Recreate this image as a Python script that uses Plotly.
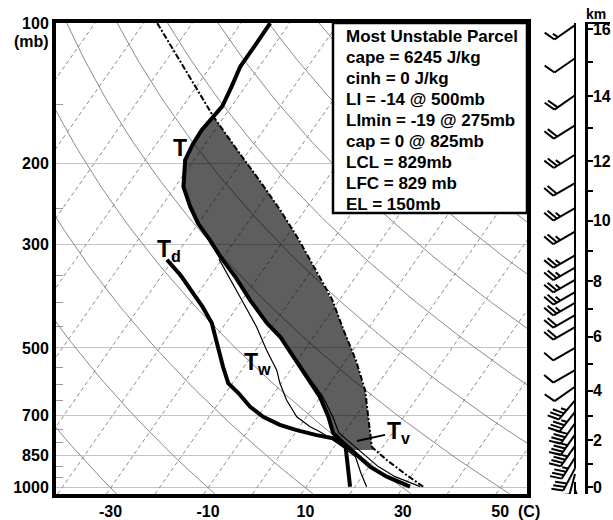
import numpy as np
import plotly.graph_objects as go

# ---------------- data ----------------
# environmental temperature (C) vs pressure (mb)
t_p = [994, 946, 900, 817, 800, 762, 703, 637, 577, 522, 473, 442, 394, 351, 318,
       293, 270, 248, 225, 197, 182, 170, 159, 151, 137, 124, 111, 100]
t_c = [31.3, 25.1, 20.2, 12.7, 11.3, 7.8, 4.5, -0.1, -5.7, -11.4, -16.9, -21.6, -28.4,
       -34.8, -40.7, -45.2, -50.0, -54.1, -58.3, -61.8, -62.5, -62.7, -62.2, -61.9,
       -62.8, -63.9, -63.9, -64.0]
# dew point
td_p = [994, 930, 857, 817, 782, 770, 751, 732, 703, 669, 625, 595, 549, 488, 442,
        408, 375, 348, 323]
td_c = [19.0, 16.7, 14.0, 12.4, 8.5, 4.7, -0.1, -4.3, -8.9, -13.0, -17.4, -20.9,
        -24.3, -29.0, -32.9, -37.1, -42.1, -46.3, -51.2]
# wet-bulb temperature
tw_p = [994, 930, 857, 800, 757, 739, 703, 647, 595, 558, 505, 450, 400, 357, 322]
tw_c = [22.4, 19.3, 15.8, 10.2, 4.9, 2.2, -2.0, -6.5, -10.3, -12.8, -17.8, -23.2,
        -29.3, -35.3, -40.6]
# virtual temperature
tv_p = [994, 946, 900, 817, 762, 703, 637, 577, 522, 473, 442, 394]
tv_c = [33.4, 26.8, 21.9, 14.3, 9.0, 5.4, 0.5, -5.3, -11.1, -16.7, -21.5, -28.3]
# most unstable parcel (virtual) temperature
pc_p = [994, 938, 871, 817, 714, 616, 531, 458, 394, 340, 293, 252, 218, 188, 159, 100]
pc_c = [34.0, 28.9, 22.7, 17.8, 13.2, 8.2, 2.0, -4.8, -11.5, -19.2, -26.9, -35.2,
        -43.6, -52.4, -62.2, -87.2]
lfc_p = 829

# wind profile
wind_p = [101, 119, 143, 166, 192, 221, 250, 281, 316, 336, 357, 379, 400, 425, 451,
          500, 558, 606, 648, 686, 726, 768, 812, 860, 908, 934, 971, 1008]
wind_dir = [235, 235, 235, 238, 238, 240, 240, 240, 240, 240, 240, 240, 240, 240, 240,
            240, 240, 235, 220, 218, 215, 215, 215, 212, 208, 195, 180, 160]
wind_kt = [15, 10, 20, 20, 25, 20, 25, 25, 25, 25, 25, 25, 25, 20, 20,
           10, 10, 10, 35, 35, 40, 40, 40, 35, 30, 20, 15, 15]

# height scale (km)
km_text = ["16", "14", "12", "10", "8", "6", "4", "2", "0"]
km_p = [103, 143.6, 198, 266, 359, 473, 618, 790, 996]
km_minor_p = [121, 168, 230, 309, 412, 541, 699, 888]

# axes text
x_tick_vals = [-30, -10, 10, 30, 50]
x_tick_text = ["-30", "-10", "10", "30", "50"]
p_tick_vals = [100, 200, 300, 500, 700, 850, 1000]
p_tick_text = ["100", "200", "300", "500", "700", "850", "1000"]
p_minor_vals = [150, 250, 350, 400, 450, 550, 600, 650, 750, 800, 900, 950]
info_lines = ["Most Unstable Parcel", "cape = 6245 J/kg", "cinh = 0 J/kg",
              "LI = -14 @ 500mb", "LImin = -19 @ 275mb", "cap = 0 @ 825mb",
              "LCL = 829mb", "LFC = 829 mb", "EL = 150mb"]
isotherm_c = list(range(-140, 60, 10))
adiabat_c = list(range(-30, 250, 20))

# ---------------- layout constants ----------------
W, H = 613, 520
ML, MR, MT, MB = 56, 13, 23, 26
PW, PH = W - ML - MR, H - MT - MB
MAIN_RIGHT = 527
KM_X = 585
SKEW = 29.0
P_TOP, P_BOT = 99.95, 1030.8
X_LEFT, X_RIGHT = -41.21, 55.50
FONT = "Liberation Sans, Arial, sans-serif"
PX_PER_LN = PH / np.log(P_BOT / P_TOP)
YR = [np.log10(P_BOT), np.log10(P_TOP)]


def px(x):
    return (x - ML) / PW


def py(y):
    return (H - MB - y) / PH


def skew(t, p):
    return np.asarray(t, float) + SKEW * np.log(1000.0 / np.asarray(p, float))


fig = go.Figure()

# isotherms
ix, iy = [], []
for t in isotherm_c:
    ix += list(skew([t, t], [P_BOT, P_TOP])) + [None]
    iy += [P_BOT, P_TOP, None]
fig.add_trace(go.Scatter(x=ix, y=iy, mode="lines", hoverinfo="skip",
                         line=dict(color="#8c8c8c", width=1, dash="4px,3px")))

# dry adiabats
pg = np.geomspace(P_TOP, P_BOT, 60)
ax_, ay_ = [], []
for th in adiabat_c:
    tt = (th + 273.15) * (pg / 1000.0) ** 0.2857 - 273.15
    ax_ += list(skew(tt, pg)) + [None]
    ay_ += list(pg) + [None]
fig.add_trace(go.Scatter(x=ax_, y=ay_, mode="lines", hoverinfo="skip",
                         line=dict(color="#8a8a8a", width=1)))

# CAPE area between environment and parcel
pp = np.geomspace(lfc_p, 100, 300)
env = np.interp(-np.log(pp), -np.log(t_p), t_c)
par = np.interp(-np.log(pp), -np.log(pc_p), pc_c)
diff = par - env
k = int(np.argmax(diff < 0)) if np.any(diff < 0) else len(pp)
fp = list(pp[:k])
fe = list(env[:k])
fpar = list(par[:k])
if k < len(pp):
    f = diff[k - 1] / (diff[k - 1] - diff[k])
    lp_el = np.log(pp[k - 1]) + f * (np.log(pp[k]) - np.log(pp[k - 1]))
    p_el = float(np.exp(lp_el))
    t_el = env[k - 1] + f * (env[k] - env[k - 1])
    fp.append(p_el); fe.append(t_el); fpar.append(t_el)
poly_x = list(skew(fe, fp)) + list(skew(fpar, fp))[::-1]
poly_y = fp + fp[::-1]
fig.add_trace(go.Scatter(x=poly_x, y=poly_y, mode="lines", fill="toself",
                         fillcolor="rgba(0,0,0,0.63)", line=dict(width=0),
                         hoverinfo="skip"))

# sounding lines
fig.add_trace(go.Scatter(x=skew(tv_c, tv_p), y=tv_p, mode="lines",
                         line=dict(color="black", width=1.2), hoverinfo="skip"))
fig.add_trace(go.Scatter(x=skew(tw_c, tw_p), y=tw_p, mode="lines",
                         line=dict(color="black", width=1.2), hoverinfo="skip"))
fig.add_trace(go.Scatter(x=skew(pc_c, pc_p), y=pc_p, mode="lines",
                         line=dict(color="black", width=2, dash="6px,2px,2px,2px"),
                         hoverinfo="skip"))
fig.add_trace(go.Scatter(x=skew(td_c, td_p), y=td_p, mode="lines",
                         line=dict(color="black", width=4), hoverinfo="skip"))
fig.add_trace(go.Scatter(x=skew(t_c, t_p), y=t_p, mode="lines",
                         line=dict(color="black", width=4), hoverinfo="skip"))

# wind barbs (pixel geometry on a side axis whose x units are pixels)
POLE_X = 575
STAFF, FULL, HALF, GAP = 25, 12, 6, 4
ROT = np.radians(70)
bx, by = [], []


def seg(p0, x1, y1, x2, y2):
    bx.extend([POLE_X + x1, POLE_X + x2, None])
    by.extend([p0 * np.exp(y1 / PX_PER_LN), p0 * np.exp(y2 / PX_PER_LN), None])


for p0, d, s in zip(wind_p, wind_dir, wind_kt):
    r = np.radians(d)
    ux, uy = np.sin(r), -np.cos(r)
    seg(p0, 0, 0, STAFF * ux, STAFF * uy)
    fx = ux * np.cos(ROT) - uy * np.sin(ROT)
    fy = ux * np.sin(ROT) + uy * np.cos(ROT)
    n10 = int(s // 10)
    n5 = int(round((s - 10 * n10) / 5))
    pos = STAFF
    for i in range(n10):
        sx, sy = pos * ux, pos * uy
        seg(p0, sx, sy, sx + FULL * fx, sy + FULL * fy)
        pos -= GAP
    if n5:
        if n10 == 0:
            pos -= GAP
        sx, sy = pos * ux, pos * uy
        seg(p0, sx, sy, sx + HALF * fx, sy + HALF * fy)

fig.add_trace(go.Scatter(x=[POLE_X, POLE_X], y=[P_TOP, wind_p[-4]], mode="lines",
                         line=dict(color="black", width=2), xaxis="x3", yaxis="y3",
                         hoverinfo="skip", cliponaxis=False))
fig.add_trace(go.Scatter(x=bx, y=by, mode="lines", line=dict(color="black", width=2),
                         xaxis="x3", yaxis="y3", hoverinfo="skip", cliponaxis=False))

bold16 = dict(family=FONT, size=16, color="black", weight="bold")
bold17 = dict(family=FONT, size=17, color="black", weight="bold")

fig.update_layout(
    width=W, height=H, margin=dict(l=ML, r=MR, t=MT, b=MB, autoexpand=False),
    paper_bgcolor="white", plot_bgcolor="white", showlegend=False,
    xaxis=dict(domain=[0, px(MAIN_RIGHT)], range=[X_LEFT, X_RIGHT], showgrid=False,
               zeroline=False, showline=True, linewidth=4, linecolor="black",
               mirror=True, ticks="", tickvals=x_tick_vals, ticktext=x_tick_text,
               tickfont=bold16, automargin=False, anchor="y"),
    yaxis=dict(type="log", range=YR, domain=[0, 1], anchor="x",
               tickvals=p_tick_vals, ticktext=p_tick_text, tickfont=bold16,
               showgrid=True, gridcolor="#c4c4c4", gridwidth=1.2, zeroline=False,
               showline=True, linewidth=4, linecolor="black", mirror=True, ticks="",
               automargin=False,
               minor=dict(tickvals=p_minor_vals, ticks="inside", ticklen=7,
                          tickcolor="#9a9a9a", tickwidth=1, showgrid=False)),
    xaxis3=dict(domain=[px(530), px(KM_X)], range=[530, KM_X], visible=False,
                anchor="y3", fixedrange=True, automargin=False),
    yaxis3=dict(type="log", range=YR, domain=[0, 1], anchor="x3", side="right",
                tickvals=km_p, ticktext=km_text, tickfont=bold16, showgrid=False,
                zeroline=False, showline=True, linewidth=2.5, linecolor="black",
                ticks="outside", ticklen=5, tickwidth=2, tickcolor="black",
                ticklabelstandoff=-3, automargin=False,
                minor=dict(tickvals=km_minor_p, ticks="outside", ticklen=5,
                           tickwidth=2, tickcolor="black", showgrid=False)),
)

# info box
fig.add_shape(type="rect", xref="paper", yref="paper", x0=px(333), x1=px(MAIN_RIGHT),
              y0=py(213), y1=py(23), fillcolor="white",
              line=dict(color="black", width=2.5), layer="above")
for i, line in enumerate(info_lines):
    fig.add_annotation(xref="paper", yref="paper", x=px(344), y=py(36 + 21.1 * i),
                       xanchor="left", yanchor="middle", align="left",
                       showarrow=False, text=line, font=bold17)

# km axis cap line and title
fig.add_shape(type="line", xref="paper", yref="paper", x0=px(KM_X), x1=px(610),
              y0=py(23), y1=py(23), line=dict(color="black", width=2))
fig.add_annotation(xref="paper", yref="paper", x=px(596), y=py(14), text="km",
                   xanchor="center", yanchor="middle", showarrow=False,
                   font=dict(family=FONT, size=14, color="black", weight="bold"))
# unit labels
fig.add_annotation(xref="paper", yref="paper", x=px(31), y=py(41), text="(mb)",
                   xanchor="center", yanchor="middle", showarrow=False, font=bold16)
fig.add_annotation(xref="paper", yref="paper", x=px(529), y=py(511), text="(C)",
                   xanchor="center", yanchor="middle", showarrow=False, font=bold16)

# curve labels
big = dict(family=FONT, size=23, color="black", weight="bold")
fig.add_annotation(xref="paper", yref="paper", x=px(180), y=py(148), text="T",
                   xanchor="center", yanchor="middle", showarrow=False, font=big)
fig.add_annotation(xref="paper", yref="paper", x=px(155), y=py(250), xanchor="left",
                   yanchor="middle", text="T<sub>d</sub>", showarrow=False, font=big)
fig.add_annotation(xref="paper", yref="paper", x=px(242), y=py(363), xanchor="left",
                   yanchor="middle", text="T<sub>w</sub>", showarrow=False, font=big)
fig.add_annotation(xref="paper", yref="paper", x=px(357), y=py(441), ax=41, ay=-9,
                   xanchor="center", yanchor="middle",
                   text="T<sub>v</sub>", showarrow=True, arrowhead=0, arrowwidth=2,
                   arrowcolor="black", font=big)

fig.write_html("out.html")
